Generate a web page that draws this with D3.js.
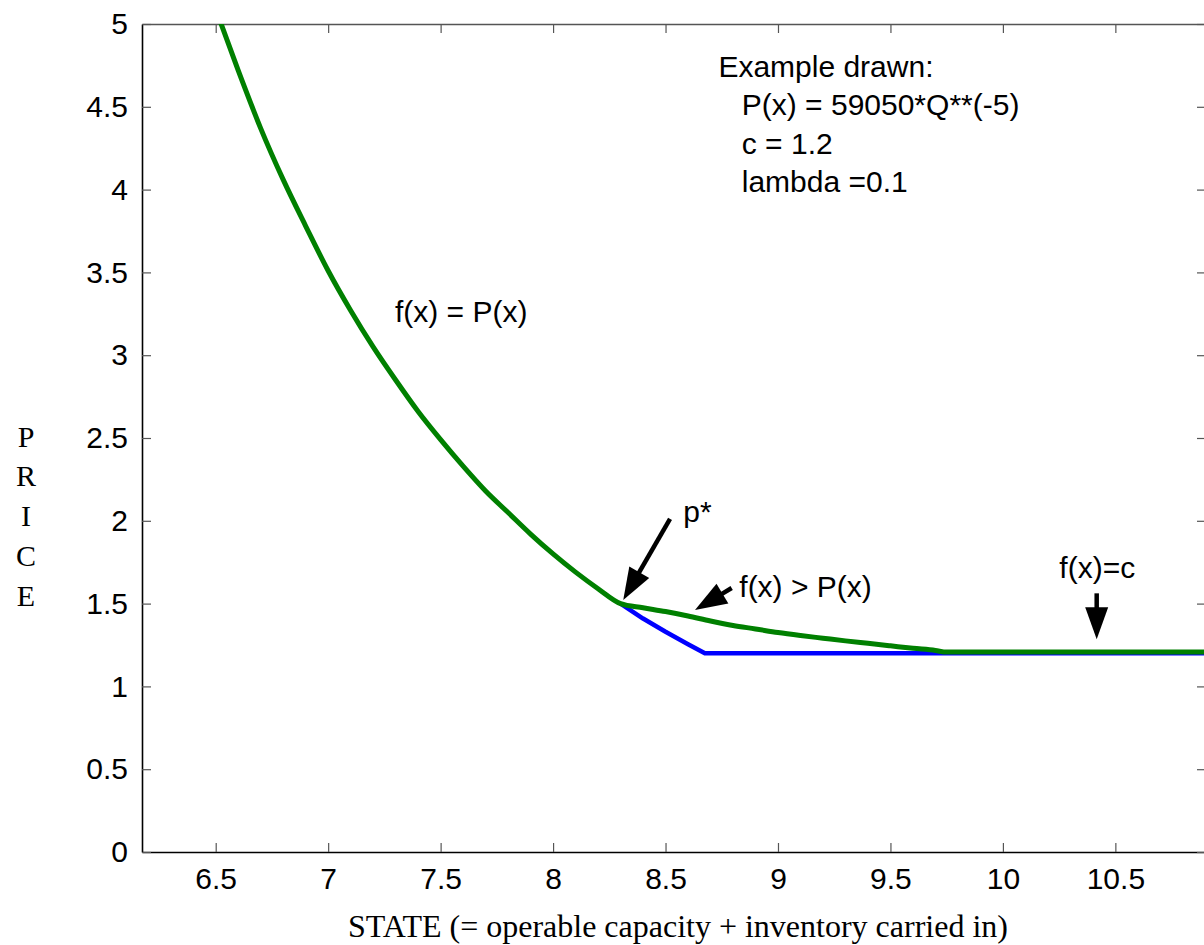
<!DOCTYPE html>
<html>
<head>
<meta charset="utf-8">
<script src="https://cdn.jsdelivr.net/npm/d3@7"></script>
<style>
  body { margin: 0; background: #fff; }
  .axis text { font-family: "Liberation Sans", Arial, sans-serif; font-size: 30px; fill: #000; }
  .note { font-family: "Liberation Sans", Arial, sans-serif; font-size: 30px; fill: #000; }
  .serif { font-family: "Liberation Serif", "Times New Roman", serif; font-size: 30px; fill: #000; }
  .xtitle { font-size: 32px; }
</style>
</head>
<body>
<svg id="svg1" width="1204" height="945"></svg>
<script>
// data
var curveX = [6.5, 6.6, 6.7, 6.8, 6.9, 7.0, 7.1, 7.2, 7.3, 7.4, 7.5, 7.6, 7.7, 7.8, 7.9, 8.0, 8.1, 8.2, 8.3];
var curveP = [5.09, 4.72, 4.37, 4.06, 3.78, 3.51, 3.27, 3.05, 2.85, 2.66, 2.49, 2.33, 2.18, 2.05, 1.92, 1.80, 1.69, 1.59, 1.50];

var greenTailX = [8.4, 8.5, 8.6, 8.7, 8.8, 8.9, 9.0, 9.1, 9.2, 9.3, 9.4, 9.5, 9.6, 9.7, 9.75, 10.95];
var greenTailF = [1.475, 1.452, 1.425, 1.395, 1.368, 1.347, 1.325, 1.307, 1.291, 1.275, 1.26, 1.245, 1.23, 1.217, 1.207, 1.207];

var blueX = [8.3, 8.4, 8.5, 8.6, 8.675, 10.95];
var blueF = [1.50, 1.41, 1.33, 1.255, 1.20, 1.20];

var xTicks = [6.5, 7, 7.5, 8, 8.5, 9, 9.5, 10, 10.5];
var yTicks = [0, 0.5, 1, 1.5, 2, 2.5, 3, 3.5, 4, 4.5, 5];

var infoLines = ["P(x) = 59050*Q**(-5)", "c = 1.2", "lambda =0.1"];

// labels and arrows in data units
var labels = [
  { text: "f(x) = P(x)", x: 7.297, y: 3.20 },
  { text: "p*", x: 8.579, y: 1.99 },
  { text: "f(x) > P(x)", x: 8.828, y: 1.54 },
  { text: "f(x)=c", x: 10.251, y: 1.655 }
];
var arrows = [
  { x0: 8.520, y0: 2.011, x1: 8.312, y1: 1.522 },
  { x0: 8.794, y0: 1.594, x1: 8.631, y1: 1.461 },
  { x0: 10.417, y0: 1.562, x1: 10.417, y1: 1.284 }
];

var marginLeft = 142;
var marginTop = 24;
var plotW = 1064;
var plotH = 828;

var root = d3.select("#svg1");
var svg = root.append("g")
    .attr("transform", "translate(" + marginLeft + "," + marginTop + ")");

var scaleX = d3.scaleLinear().domain([6.1723, 10.903]).range([0, plotW]);
var scaleY = d3.scaleLinear().domain([0, 5]).range([plotH, 0]);

svg.append("clipPath")
    .attr("id", "plotclip")
  .append("rect")
    .attr("width", plotW)
    .attr("height", plotH);

// axes, ticks pointing inwards
var fmt = d3.format("~g");

svg.append("g")
    .attr("class", "axis")
    .attr("transform", "translate(0," + plotH + ")")
    .call(d3.axisBottom(scaleX).tickValues(xTicks).tickFormat(fmt).tickSizeInner(-9).tickSizeOuter(0).tickPadding(16));

svg.append("g")
    .attr("class", "axis")
    .call(d3.axisLeft(scaleY).tickValues(yTicks).tickFormat(fmt).tickSizeInner(-9).tickSizeOuter(0).tickPadding(14));

svg.append("g")
    .attr("class", "axis top")
    .call(d3.axisTop(scaleX).tickValues(xTicks).tickFormat("").tickSizeInner(-9).tickSizeOuter(0));

svg.append("g")
    .attr("class", "axis right")
    .attr("transform", "translate(" + plotW + ",0)")
    .call(d3.axisRight(scaleY).tickValues(yTicks).tickFormat("").tickSizeInner(-9).tickSizeOuter(0));

svg.selectAll(".axis .tick line").attr("stroke", "#555").attr("stroke-width", 1.2);
svg.selectAll(".axis .domain").attr("stroke", "#000").attr("stroke-width", 1.6);
svg.selectAll(".top .domain, .right .domain").attr("stroke", "#555").attr("stroke-width", 1.3);

// curves
var blueData = blueX.map(function(x, i) { return [x, blueF[i]]; });
var greenData = curveX.map(function(x, i) { return [x, curveP[i]]; })
    .concat(greenTailX.map(function(x, i) { return [x, greenTailF[i]]; }));

var smooth = d3.line()
    .x(function(d) { return scaleX(d[0]); })
    .y(function(d) { return scaleY(d[1]); })
    .curve(d3.curveMonotoneX);

var straight = d3.line()
    .x(function(d) { return scaleX(d[0]); })
    .y(function(d) { return scaleY(d[1]); });

var lines = svg.append("g").attr("clip-path", "url(#plotclip)");

lines.append("path")
    .datum(blueData)
    .attr("d", straight)
    .attr("fill", "none")
    .attr("stroke", "#0000ff")
    .attr("stroke-width", 4.5)
    .attr("stroke-linejoin", "round");

lines.append("path")
    .datum(greenData)
    .attr("d", smooth)
    .attr("fill", "none")
    .attr("stroke", "#008000")
    .attr("stroke-width", 5);

// text block in the top right
var info = svg.append("g");
info.append("text")
    .attr("class", "note")
    .attr("x", scaleX(8.735))
    .attr("y", scaleY(4.68))
    .text("Example drawn:");

info.selectAll(".info-line")
    .data(infoLines)
    .enter()
    .append("text")
      .attr("class", "note info-line")
      .attr("x", scaleX(8.839))
      .attr("y", function(d, i) { return scaleY(4.68) + 38.3 * (i + 1); })
      .text(function(d) { return d; });

svg.selectAll(".label")
    .data(labels)
    .enter()
    .append("text")
      .attr("class", "note label")
      .attr("x", function(d) { return scaleX(d.x); })
      .attr("y", function(d) { return scaleY(d.y); })
      .text(function(d) { return d.text; });

// arrows: shaft plus filled head
var headLen = 32;
var headHalf = 11.5;

arrows.forEach(function(a) {
  var x0 = scaleX(a.x0), y0 = scaleY(a.y0);
  var x1 = scaleX(a.x1), y1 = scaleY(a.y1);
  var dx = x1 - x0, dy = y1 - y0;
  var len = Math.sqrt(dx * dx + dy * dy);
  var ux = dx / len, uy = dy / len;
  var bx = x1 - ux * headLen, by = y1 - uy * headLen;

  svg.append("line")
      .attr("x1", x0).attr("y1", y0)
      .attr("x2", bx + ux * 2).attr("y2", by + uy * 2)
      .attr("stroke", "#000")
      .attr("stroke-width", 4.5);

  svg.append("path")
      .attr("d", "M" + x1 + "," + y1 +
                 "L" + (bx - uy * headHalf) + "," + (by + ux * headHalf) +
                 "L" + (bx + uy * headHalf) + "," + (by - ux * headHalf) + "Z")
      .attr("fill", "#000");
});

// axis titles
root.append("text")
    .attr("class", "serif xtitle")
    .attr("x", 678)
    .attr("y", 937)
    .attr("text-anchor", "middle")
    .text("STATE (= operable capacity + inventory carried in)");

var priceY = [447, 486, 526, 566, 606];
root.selectAll(".price")
    .data("PRICE".split(""))
    .enter()
    .append("text")
      .attr("class", "serif price")
      .attr("x", 26)
      .attr("y", function(d, i) { return priceY[i]; })
      .attr("text-anchor", "middle")
      .text(function(d) { return d; });
</script>
</body>
</html>
